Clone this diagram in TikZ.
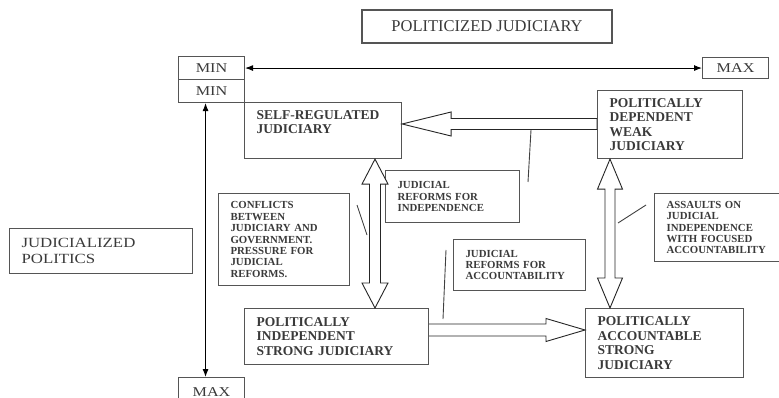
\documentclass[tikz,border=0pt]{standalone}
\usepackage{fontspec}
\setmainfont{Liberation Serif}
\newfontfamily\widefont[FakeStretch=1.2]{Liberation Serif}
\usepackage{xcolor}
\usepackage{tikz}
\usetikzlibrary{arrows.meta, positioning, calc}

\definecolor{boxgray}{HTML}{555555}
\definecolor{txtgray}{HTML}{3A3A3A}

\tikzset{
    box/.style={draw=boxgray, line width=1.1pt, inner xsep=12pt, inner ysep=0pt, align=left, text=txtgray, anchor=north west},
    bigtxt/.style={font=\bfseries\fontsize{13.5}{14.5}\selectfont},
    smalltxt/.style={font=\bfseries\fontsize{10.8}{11.4}\selectfont},
    scaletxt/.style={font=\widefont\fontsize{13.5}{15}\selectfont, align=center, inner xsep=0pt},
    thinarrow/.style={draw=black, line width=0.9pt, {Latex[length=8pt,width=6pt]}-{Latex[length=8pt,width=6pt]}},
    hollow/.style={draw=black!85, line width=0.9pt, fill=white, line join=miter},
    pointer/.style={draw=black!75, line width=0.9pt}
}

\begin{document}
\begin{tikzpicture}[x=1pt, y=-1pt]
        \useasboundingbox (0,0) rectangle (779,398);

        % scale ends
        \node (title) [box, anchor=center, align=center, inner xsep=0pt, minimum width=250pt, minimum height=33pt, font=\fontsize{16.5}{18}\selectfont] at (487,26.5) {POLITICIZED JUDICIARY};
        \node (min1) [box, scaletxt, minimum width=66pt, minimum height=23pt] at (178,56) {MIN};
        \node (min2) [box, scaletxt, minimum width=66pt, minimum height=23pt] at (178,79) {MIN};
        \node (max1) [box, scaletxt, minimum width=66pt, minimum height=21pt] at (702,57) {MAX};
        \node (max2) [box, scaletxt, minimum width=66pt, minimum height=28pt] at (178,377) {MAX};
        \node (jpol) [box, text width=159pt, minimum height=45pt, font=\widefont\fontsize{14}{16.7}\selectfont] at (9,228) {JUDICIALIZED\\POLITICS};

        % the four judiciaries
        \node (srj) [box, bigtxt, inner ysep=8pt] at (244,102) {\parbox[t][40pt][t]{133pt}{\raggedright SELF-REGULATED\\JUDICIARY}};
        \node (pdwj) [box, bigtxt, text width=121pt, minimum height=68pt] at (597,90) {POLITICALLY\\DEPENDENT\\WEAK\\JUDICIARY};
        \node (pisj) [box, bigtxt, text width=160pt, minimum height=56pt] at (244,308) {POLITICALLY\\INDEPENDENT\\STRONG JUDICIARY};
        \node (pasj) [box, bigtxt, text width=134pt, minimum height=69pt] at (585,308) {POLITICALLY\\ACCOUNTABLE\\STRONG\\JUDICIARY};

        % forces
        \node (conf) [box, smalltxt, text width=107pt, minimum height=92pt] at (218,193) {CONFLICTS\\BETWEEN\\JUDICIARY AND\\GOVERNMENT.\\PRESSURE FOR\\JUDICIAL\\REFORMS.};
        \node (jri) [box, smalltxt, text width=110pt, minimum height=52pt] at (385,170) {JUDICIAL\\REFORMS FOR\\INDEPENDENCE};
        \node (jra) [box, smalltxt, text width=108pt, minimum height=51pt] at (453,239) {JUDICIAL\\REFORMS FOR\\ACCOUNTABILITY};
        \node (asl) [box, smalltxt, text width=102pt, minimum height=68pt] at (654,193) {ASSAULTS ON\\JUDICIAL\\INDEPENDENCE\\WITH FOCUSED\\ACCOUNTABILITY};

        % scale arrows
        \draw[thinarrow] (min1.east) -- (max1.west);
        \draw[thinarrow] ([xshift=-6pt]min2.south) -- ([xshift=-6pt]max2.north);

        % block arrows
        \coordinate (la) at (srj.east |- 0,124);
        \coordinate (lb) at (pdwj.west |- 0,124);
        \draw[hollow] (la) -- ++(49,-12) -- ++(0,6.5) -- ($(lb)+(0,-5.5)$) -- ++(0,11) -- ($(la)+(49,5.5)$) -- ++(0,6.5) -- cycle;

        \coordinate (ba) at (pisj.east |- 0,330);
        \coordinate (bb) at (pasj.west |- 0,330);
        \draw[hollow] ($(ba)+(0,-6)$) -- ($(bb)+(-39,-6)$) -- ++(0,-5.5) -- (bb) -- ++(-39,11.5) -- ++(0,-5.5) -- ($(ba)+(0,6)$);

        \coordinate (ua) at (375,0 |- srj.south);
        \coordinate (ub) at (375,0 |- pisj.north);
        \draw[hollow] (ua) -- ++(13,25) -- ++(-7.5,0) -- ($(ub)+(5.5,-25)$) -- ++(7.5,0) -- (ub) -- ++(-13,-25) -- ++(7.5,0) -- ($(ua)+(-5.5,25)$) -- ++(-7.5,0) -- cycle;

        \coordinate (ra) at (610,0 |- pdwj.south);
        \coordinate (rb) at (610,0 |- pasj.north);
        \draw[hollow] (ra) -- ++(12.5,30) -- ++(-7.5,0) -- ($(rb)+(5,-30)$) -- ++(7.5,0) -- (rb) -- ++(-12.5,-30) -- ++(7.5,0) -- ($(ra)+(-5,30)$) -- ++(-7.5,0) -- cycle;

        % pointers
        \coordinate (p1a) at (531,130);
        \coordinate (p1b) at (528,182);
        \coordinate (p2a) at (357,205);
        \coordinate (p2b) at (367,235);
        \coordinate (p3a) at (446,250);
        \coordinate (p3b) at (443,319);
        \coordinate (p4a) at (618,223);
        \coordinate (p4b) at (646,205);
        \draw[pointer] (p1a) -- (p1b);
        \draw[pointer] (p2a) -- (p2b);
        \draw[pointer] (p3a) -- (p3b);
        \draw[pointer] (p4a) -- (p4b);
    \end{tikzpicture}
\end{document}
